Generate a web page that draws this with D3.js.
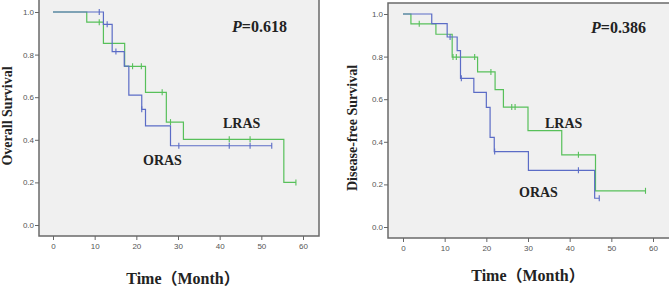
<!DOCTYPE html>
<html>
<head>
<meta charset="utf-8">
<script src="https://cdn.jsdelivr.net/npm/d3@7"></script>
<style>
  body { margin: 0; background: #fff; }
  .tick text { font-family: "Liberation Sans", Arial, sans-serif; font-size: 8px; fill: #555; }
  .lbl { font-family: "Liberation Serif", "Times New Roman", serif; font-weight: bold; fill: #222; }
</style>
</head>
<body>
<svg width="669" height="288"></svg>
<script>
(function (d3) {
  'use strict';

  // x ticks / y ticks
  const xTicks = [0, 10, 20, 30, 40, 50, 60];
  const yTicks = [0, 0.2, 0.4, 0.6, 0.8, 1.0];

  // overall survival, LRAS
  const osLrasTimes = [0, 8.1, 12.1, 17.2, 22.2, 27.2, 31.3, 55.4];
  const osLrasSurv = [1.0, 0.952, 0.853, 0.745, 0.623, 0.483, 0.402, 0.2];
  const osLrasEnd = 58.3;
  const osLrasCensor = [11.1, 19.1, 21.2, 26.2, 28.2, 42.3, 47.3, 58.3];

  // overall survival, ORAS
  const osOrasTimes = [0, 12.1, 14.2, 17.1, 18.2, 21.3, 22.2, 28.2];
  const osOrasSurv = [1.0, 0.942, 0.814, 0.746, 0.61, 0.543, 0.465, 0.372];
  const osOrasEnd = 52.5;
  const osOrasCensor = [11.1, 13.0, 15.1, 21.3, 30.2, 42.3, 47.3, 52.5];

  // disease-free survival, LRAS
  const dfsLrasTimes = [0, 1.9, 7.9, 11.8, 17.9, 22.1, 24.1, 30.0, 38.1, 46.2];
  const dfsLrasSurv = [1.0, 0.954, 0.905, 0.798, 0.728, 0.645, 0.563, 0.452, 0.339, 0.170];
  const dfsLrasEnd = 58.2;
  const dfsLrasCensor = [3.9, 12.0, 12.8, 17.2, 21.1, 26.1, 26.9, 42.1, 58.2];

  // disease-free survival, ORAS
  const dfsOrasTimes = [0, 6.9, 10.6, 13.0, 13.8, 17.0, 20.0, 20.9, 21.9, 30.1, 46.0];
  const dfsOrasSurv = [1.0, 0.955, 0.892, 0.828, 0.698, 0.632, 0.562, 0.421, 0.354, 0.266, 0.135];
  const dfsOrasEnd = 47.1;
  const dfsOrasCensor = [11.3, 14.0, 22.0, 42.1, 47.1];

  const green = '#57c05a';
  const blue = '#5b6cc6';

  const svg = d3.select('svg');

  const stepPoints = (times, surv, end) => {
    const pts = times.map((t, i) => [t, surv[i]]);
    pts.push([end, surv[surv.length - 1]]);
    return pts;
  };
  const survAt = (times, surv, t) => {
    let s = surv[0];
    times.forEach((tt, i) => { if (tt <= t) s = surv[i]; });
    return s;
  };

  const drawPanel = p => {
    const xScale = d3.scaleLinear().domain([0, 60]).range([p.x0, p.x60]);
    const yScale = d3.scaleLinear().domain([0, 1]).range([p.y0, p.y1]);

    const g = svg.append('g');

    g.append('rect')
        .attr('x', p.left).attr('y', p.top)
        .attr('width', p.right - p.left).attr('height', p.bottom - p.top)
        .attr('fill', '#f0f0f0')
        .attr('stroke', '#6a6a6a')
        .attr('stroke-width', 1.5);

    const yAxis = d3.axisLeft(yScale).tickValues(yTicks).tickFormat(d3.format('.1f'))
        .tickSize(4).tickPadding(1);
    const yAxisG = g.append('g').attr('transform', `translate(${p.left},0)`).call(yAxis);
    yAxisG.select('.domain').remove();
    yAxisG.selectAll('line').attr('stroke', '#666');

    const xAxis = d3.axisBottom(xScale).tickValues(xTicks).tickSize(4).tickPadding(3);
    const xAxisG = g.append('g').attr('transform', `translate(0,${p.bottom})`).call(xAxis);
    xAxisG.select('.domain').remove();
    xAxisG.selectAll('line').attr('stroke', '#666');

    const line = d3.line()
        .x(d => xScale(d[0]))
        .y(d => yScale(d[1]))
        .curve(d3.curveStepAfter);

    p.groups.forEach(gr => {
      g.append('path')
          .datum(stepPoints(gr.times, gr.surv, gr.end))
          .attr('d', line)
          .attr('fill', 'none')
          .attr('stroke', gr.color)
          .attr('stroke-width', 1.2);
      g.selectAll(null).data(gr.censor).enter().append('line')
          .attr('x1', d => xScale(d)).attr('x2', d => xScale(d))
          .attr('y1', d => yScale(survAt(gr.times, gr.surv, d)) - 3)
          .attr('y2', d => yScale(survAt(gr.times, gr.surv, d)) + 3)
          .attr('stroke', gr.color)
          .attr('stroke-width', 1.1);
    });

    const pText = g.append('text').attr('class', 'lbl')
        .attr('x', p.pX).attr('y', p.pY).attr('font-size', 16);
    pText.append('tspan').attr('font-style', 'italic').text('P');
    pText.append('tspan').text('=' + p.pValue);

    g.append('text').attr('class', 'lbl').attr('font-size', 14)
        .attr('x', p.lrasX).attr('y', p.lrasY).text('LRAS');
    g.append('text').attr('class', 'lbl').attr('font-size', 14)
        .attr('x', p.orasX).attr('y', p.orasY).text('ORAS');

    g.append('text').attr('class', 'lbl').attr('font-size', 14)
        .attr('transform', `translate(${p.yLabelX},${p.yLabelY}) rotate(-90)`)
        .attr('text-anchor', 'middle')
        .text(p.yLabel);

    g.append('text').attr('class', 'lbl').attr('font-size', 16)
        .style('font-family', '"Liberation Serif", "Noto Sans CJK SC", serif')
        .attr('x', p.xLabelX).attr('y', p.xLabelY)
        .attr('text-anchor', 'middle')
        .text('Time（Month）');
  };

  drawPanel({
    left: 39, right: 319, top: -2, bottom: 236,
    x0: 53, x60: 303, y0: 225, y1: 12,
    pValue: '0.618', pX: 232, pY: 32,
    lrasX: 223, lrasY: 128, orasX: 143, orasY: 165,
    yLabel: 'Overall Survival', yLabelX: 12, yLabelY: 116,
    xLabelX: 183, xLabelY: 284,
    groups: [
      {times: osLrasTimes, surv: osLrasSurv, end: osLrasEnd, censor: osLrasCensor, color: green},
      {times: osOrasTimes, surv: osOrasSurv, end: osOrasEnd, censor: osOrasCensor, color: blue}
    ]
  });

  drawPanel({
    left: 388, right: 675, top: 3, bottom: 238,
    x0: 403, x60: 653, y0: 227, y1: 14,
    pValue: '0.386', pX: 591, pY: 33,
    lrasX: 545, lrasY: 128, orasX: 519, orasY: 197,
    yLabel: 'Disease-free Survival', yLabelX: 357, yLabelY: 128,
    xLabelX: 528, xLabelY: 281,
    groups: [
      {times: dfsLrasTimes, surv: dfsLrasSurv, end: dfsLrasEnd, censor: dfsLrasCensor, color: green},
      {times: dfsOrasTimes, surv: dfsOrasSurv, end: dfsOrasEnd, censor: dfsOrasCensor, color: blue}
    ]
  });

}(d3));
</script>
</body>
</html>
